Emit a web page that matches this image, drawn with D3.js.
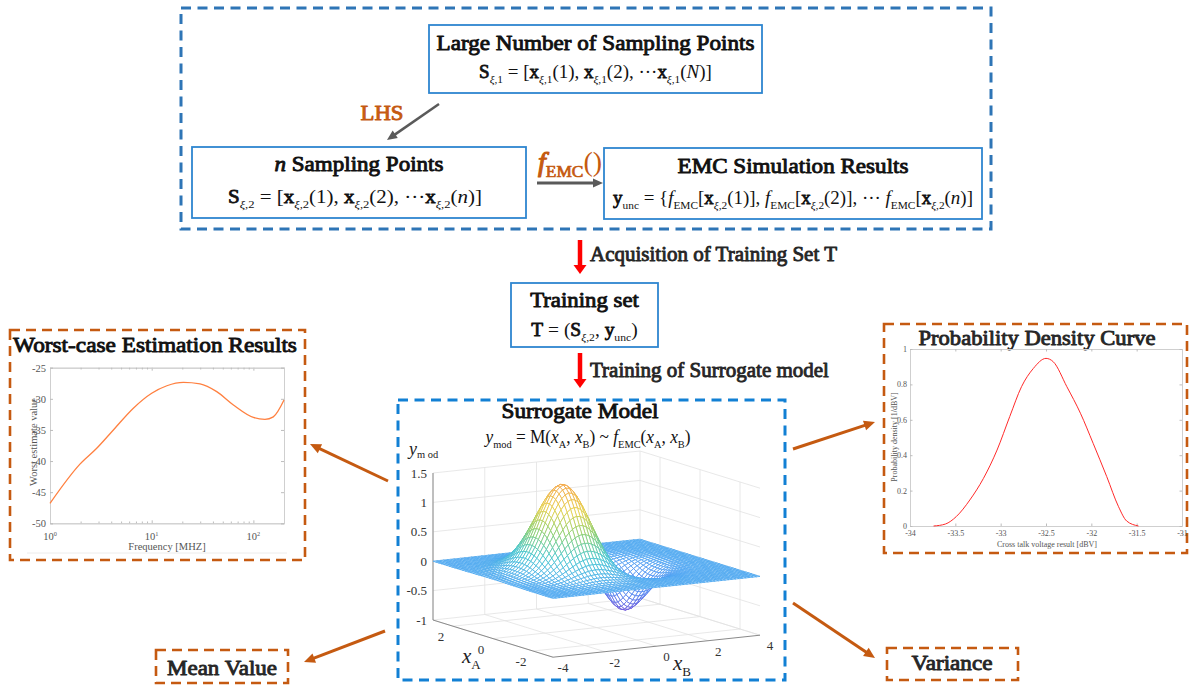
<!DOCTYPE html>
<html>
<head>
<meta charset="utf-8">
<script src="https://cdn.jsdelivr.net/npm/d3@7"></script>
<style>
  html, body { margin: 0; padding: 0; background: #fff; }
  svg { display: block; font-family: "Liberation Serif", "Times New Roman", serif; }
  text { white-space: pre; }
</style>
</head>
<body>
<svg id="fig" width="1190" height="685"></svg>
<script>
// ---- data ----
const worstFreq  = [1, 1.97, 2.88, 4.2, 6.6, 10, 14.1, 20.5, 29.9, 43.6, 63.6, 100, 130, 157, 200];
const worstValue = [-46.8, -40.5, -37.95, -35.0, -31.5, -29.1, -27.9, -27.36, -27.6, -28.85, -31.0, -33.0, -33.3, -32.9, -30.2];
const worstYTicks = [-50, -45, -40, -35, -30, -25];
const worstXTicks = [1, 10, 100];
const worstXMinor = [2, 3, 4, 5, 6, 7, 8, 9, 20, 30, 40, 50, 60, 70, 80, 90, 200];

const pdfVoltage = [-33.74, -33.61, -33.49, -33.34, -33.19, -33.04, -32.9, -32.77, -32.64, -32.5, -32.42, -32.27, -32.12, -31.98, -31.83, -31.7, -31.61, -31.48];
const pdfDensity = [0, 0.011, 0.053, 0.147, 0.269, 0.429, 0.618, 0.787, 0.89, 0.947, 0.928, 0.787, 0.637, 0.467, 0.279, 0.109, 0.028, 0];
const pdfXTicks = [-34, -33.5, -33, -32.5, -32, -31.5, -31];
const pdfYTicks = [0, 0.2, 0.4, 0.6, 0.8, 1];

const surfXATicks = [-2, 0, 2];
const surfXBTicks = [-4, -2, 0, 2, 4];
const surfZTicks = [-1, -0.5, 0, 0.5, 1, 1.5];
// surrogate surface: a hump and a trough on a flat plane
const surfBumpXA     = [0, 0];
const surfBumpXB     = [-1.3, 1.0];
const surfBumpHeight = [1.5, -0.78];
const surfBumpSpread = [1.2, 1.0];
const surfColors = ["#6b4fd8", "#4d7ff0", "#4ea6f2", "#3fc4cf", "#86cd6a", "#e5cf45", "#f2a640"];
const surfColorRange = [-0.75, 1.45];

// ---- styles ----
const ORANGE = "#c55a11", BLUE = "#2e75b6", BLUE2 = "#1280d4", BOXBLUE = "#2e86d0";
const GRAY_ARROW = "#5a5a5a", RED = "#ff0000";

const svg = d3.select("#fig");
svg.append("rect").attr("width", 1190).attr("height", 685).attr("fill", "#fff");

// bold serif faces are missing, so bold is drawn as regular serif with a thin outline
function embolden(sel, fill, size) {
  sel.attr("font-weight", "normal").attr("stroke", fill).attr("stroke-width", Math.max(0.5, size * 0.042))
      .attr("stroke-linejoin", "round");
}

// rich text: segments [text, flags] ; b bold, i italic, s subscript, p superscript
function rich(parent, x, y, segs, size, opts = {}) {
  const fill = opts.fill || "#111";
  const t = parent.append("text")
      .attr("x", x).attr("y", y)
      .attr("text-anchor", opts.anchor || "middle")
      .attr("fill", fill)
      .attr("font-size", size);
  let off = 0;
  segs.forEach(([txt, f = ""]) => {
    const sub = f.includes("s"), sup = f.includes("p");
    const target = sub ? size * (opts.subShift || 0.28) : sup ? -size * 0.42 : 0;
    const fs = sub || sup ? size * (opts.subScale || 0.6) : size;
    const ts = t.append("tspan")
        .attr("dy", target - off)
        .attr("font-size", fs)
        .attr("font-weight", "normal")
        .attr("font-style", f.includes("i") ? "italic" : "normal")
        .text(txt);
    if (f.includes("b")) embolden(ts, fill, fs);
    off = target;
  });
  return t;
}

function fit(sel, width, cx) {
  const w = sel.node().getBBox().width;
  const k = width / w;
  sel.attr("transform", `translate(${cx},0) scale(${k},1) translate(${-cx},0)`);
}

function arrow(g, x1, y1, x2, y2, color, w, hl, hw) {
  const dx = x2 - x1, dy = y2 - y1, L = Math.hypot(dx, dy), ux = dx / L, uy = dy / L;
  const bx = x2 - ux * hl, by = y2 - uy * hl;
  g.append("line")
      .attr("x1", x1).attr("y1", y1).attr("x2", bx + ux).attr("y2", by + uy)
      .attr("stroke", color).attr("stroke-width", w);
  g.append("path")
      .attr("d", `M${x2},${y2}L${bx - uy * hw / 2},${by + ux * hw / 2}L${bx + uy * hw / 2},${by - ux * hw / 2}Z`)
      .attr("fill", color);
}

function box(g, x0, y0, x1, y1, color, w, dash) {
  g.append("rect")
      .attr("x", x0).attr("y", y0).attr("width", x1 - x0).attr("height", y1 - y0)
      .attr("fill", "none").attr("stroke", color).attr("stroke-width", w)
      .attr("stroke-dasharray", dash || null);
}

function title(g, x, y, txt, size, width, fill, anchor) {
  const t = g.append("text").attr("x", x).attr("y", y)
      .attr("text-anchor", anchor || "middle")
      .attr("font-size", size).attr("fill", fill || "#111").text(txt);
  embolden(t, fill || "#111", size);
  if (width) fit(t, width, x);
  return t;
}

const upper = svg.append("g");

// ---- top block ----
box(upper, 181, 8, 991, 229, BLUE, 3, "10,6.5");
box(upper, 429, 25, 762, 93, BOXBLUE, 1.8);
title(upper, 595.5, 50, "Large Number of Sampling Points", 22, 318);
fit(rich(upper, 595.5, 78, [["S", "b"], ["ξ", "is"], [",1", "s"], [" = [", ""], ["x", "b"], ["ξ", "is"], [",1", "s"], ["(1), ", ""],
  ["x", "b"], ["ξ", "is"], [",1", "s"], ["(2), ···", ""], ["x", "b"], ["ξ", "is"], [",1", "s"], ["(", ""], ["N", "i"], [")]", ""]], 19), 233, 595.5);

title(upper, 382, 120, "LHS", 22, 43, ORANGE);
arrow(upper, 439, 104, 387, 140, GRAY_ARROW, 2.5, 10, 9);

box(upper, 192, 147, 526, 218, BOXBLUE, 1.8);
fit(rich(upper, 359, 171, [["n", "bi"], [" Sampling Points", "b"]], 22), 169, 359);
fit(rich(upper, 355, 203, [["S", "b"], ["ξ", "is"], [",2", "s"], [" = [", ""], ["x", "b"], ["ξ", "is"], [",2", "s"], ["(1), ", ""],
  ["x", "b"], ["ξ", "is"], [",2", "s"], ["(2), ···", ""], ["x", "b"], ["ξ", "is"], [",2", "s"], ["(", ""], ["n", "i"], [")]", ""]], 19), 254, 355);

box(upper, 604, 148, 982, 219, BOXBLUE, 1.8);
title(upper, 793, 173, "EMC Simulation Results", 22, 231);
fit(rich(upper, 793, 204, [["y", "b"], ["unc", "s"], [" = {", ""], ["f", "i"], ["EMC", "s"], ["[", ""], ["x", "b"], ["ξ", "is"], [",2", "s"], ["(1)], ", ""],
  ["f", "i"], ["EMC", "s"], ["[", ""], ["x", "b"], ["ξ", "is"], [",2", "s"], ["(2)], ··· ", ""],
  ["f", "i"], ["EMC", "s"], ["[", ""], ["x", "b"], ["ξ", "is"], [",2", "s"], ["(", ""], ["n", "i"], [")]", ""]], 19), 360, 793);

rich(upper, 538, 171, [["f", "bi"], ["EMC", "bs"], ["()", ""]], 28, { anchor: "start", fill: ORANGE, subScale: 0.62, subShift: 0.2 });
arrow(upper, 537, 183, 603, 183, GRAY_ARROW, 3, 10, 9);

// ---- middle flow ----
const mid = svg.append("g");
arrow(mid, 580, 240, 580, 274, RED, 4.5, 9, 13);
title(mid, 590, 261, "Acquisition of Training Set T", 21, null, "#262626", "start");
box(mid, 511, 283, 658, 347, BOXBLUE, 1.8);
title(mid, 584.5, 307, "Training set", 21, 109);
fit(rich(mid, 584.5, 336, [["T", "b"], [" = (", ""], ["S", "b"], ["ξ", "is"], [",2", "s"], [", ", ""], ["y", "b"], ["unc", "s"], [")", ""]], 19), 106, 584.5);
arrow(mid, 580, 353, 580, 388, RED, 4.5, 9, 13);
title(mid, 590, 377, "Training of Surrogate model", 21, null, "#262626", "start");

// ---- orange arrows and side boxes ----
const side = svg.append("g");
arrow(side, 388, 481, 310, 444, ORANGE, 3, 11, 10);
arrow(side, 385, 631, 304, 662, ORANGE, 3, 11, 10);
arrow(side, 793, 449, 875, 422, ORANGE, 3, 11, 10);
arrow(side, 793, 603, 875, 658, ORANGE, 3, 11, 10);

box(side, 156, 650, 288, 683, ORANGE, 2.6, "10,6");
title(side, 222, 675, "Mean Value", 21, 110, "#262626");
box(side, 887, 648, 1018, 680, ORANGE, 2.6, "10,6");
title(side, 952, 670, "Variance", 21, 81, "#262626");

// ---- worst-case chart ----
const wc = svg.append("g");
box(wc, 10, 330, 305, 560, ORANGE, 2.6, "10,6");
title(wc, 155, 352, "Worst-case Estimation Results", 22, 284);
const wx = d3.scaleLog().domain([1, 200]).range([50, 284]);
const wy = d3.scaleLinear().domain([-50, -25]).range([523.3, 367.7]);

function styleAxis(g) {
  g.attr("font-family", null);
  g.selectAll("path.domain").attr("stroke", "#cfcfcf");
  g.selectAll(".tick line").attr("stroke", "#bdbdbd");
  g.selectAll("text").attr("fill", "#555");
}
wc.append("g").attr("transform", "translate(0,523.3)")
    .call(d3.axisBottom(wx).tickValues(worstXTicks).tickSize(-3).tickFormat("")).call(styleAxis);
wc.append("g").attr("transform", "translate(0,523.3)")
    .call(d3.axisBottom(wx).tickValues(worstXMinor).tickSize(-1.8).tickFormat("")).call(styleAxis);
wc.append("g").attr("transform", "translate(0,367.7)")
    .call(d3.axisTop(wx).tickValues(worstXTicks).tickSize(-3).tickFormat("")).call(styleAxis);
wc.append("g").attr("transform", "translate(0,367.7)")
    .call(d3.axisTop(wx).tickValues(worstXMinor).tickSize(-1.8).tickFormat("")).call(styleAxis);
wc.append("g").attr("transform", "translate(50,0)")
    .call(d3.axisLeft(wy).tickValues(worstYTicks).tickSize(-3).tickPadding(4).tickFormat(d => String(d)))
    .call(styleAxis).selectAll("text").attr("font-size", 10.5);
wc.append("g").attr("transform", "translate(284,0)")
    .call(d3.axisRight(wy).tickValues(worstYTicks).tickSize(-3).tickFormat("")).call(styleAxis);
worstXTicks.forEach(v => {
  rich(wc, wx(v), 540, [["10", ""], [String(Math.round(Math.log10(v))), "p"]], 10.5, { fill: "#555" });
});
wc.append("path").datum(worstFreq.map((f, i) => [f, worstValue[i]]))
    .attr("fill", "none").attr("stroke", "#ff8040").attr("stroke-width", 1.3)
    .attr("d", d3.line().x(d => wx(d[0])).y(d => wy(d[1])).curve(d3.curveMonotoneX));
wc.append("text").attr("x", 167).attr("y", 550).attr("text-anchor", "middle")
    .attr("font-size", 10.5).attr("fill", "#555").text("Frequency [MHZ]");
wc.append("text").attr("transform", "translate(37,442) rotate(-90)").attr("text-anchor", "middle")
    .attr("font-size", 10.5).attr("fill", "#555").text("Worst estimate value");
wc.append("line").attr("x1", 27).attr("x2", 287).attr("y1", 553).attr("y2", 553)
    .attr("stroke", "#ececec").attr("stroke-width", 1);

// ---- probability density chart ----
const pc = svg.append("g");
box(pc, 884, 324, 1187, 553, ORANGE, 2.6, "10,6");
title(pc, 1037, 345, "Probability Density Curve", 21, 237, "#262626");
const px = d3.scaleLinear().domain([-34, -31]).range([910, 1182]);
const py = d3.scaleLinear().domain([0, 1]).range([526, 349]);
pc.append("g").attr("transform", "translate(0,526)")
    .call(d3.axisBottom(px).tickValues(pdfXTicks).tickSize(-2.5).tickPadding(4).tickFormat(d => String(d)))
    .call(styleAxis).selectAll("text").attr("font-size", 8);
pc.append("g").attr("transform", "translate(0,349)")
    .call(d3.axisTop(px).tickValues(pdfXTicks).tickSize(-2.5).tickFormat("")).call(styleAxis);
pc.append("g").attr("transform", "translate(910,0)")
    .call(d3.axisLeft(py).tickValues(pdfYTicks).tickSize(-2.5).tickPadding(3).tickFormat(d => String(d)))
    .call(styleAxis).selectAll("text").attr("font-size", 8);
pc.append("g").attr("transform", "translate(1182,0)")
    .call(d3.axisRight(py).tickValues(pdfYTicks).tickSize(-2.5).tickFormat("")).call(styleAxis);
pc.append("path").datum(pdfVoltage.map((v, i) => [v, pdfDensity[i]]))
    .attr("fill", "none").attr("stroke", "#ff2a2a").attr("stroke-width", 1)
    .attr("d", d3.line().x(d => px(d[0])).y(d => py(d[1])).curve(d3.curveMonotoneX));
pc.append("text").attr("x", 1047).attr("y", 547).attr("text-anchor", "middle")
    .attr("font-size", 8).attr("fill", "#555").text("Cross talk voltage result [dBV]");
pc.append("text").attr("transform", "translate(897,437) rotate(-90)").attr("text-anchor", "middle")
    .attr("font-size", 8).attr("fill", "#555").text("Probability density [1/dBV]");

// ---- surrogate model 3D mesh ----
const sm = svg.append("g");
box(sm, 398, 400, 785, 680, BLUE2, 3, "10,6.5");
title(sm, 580, 418, "Surrogate Model", 22, 157);
fit(rich(sm, 588, 443, [["y", "i"], ["mod", "s"], [" = M(", ""], ["x", "i"], ["A", "s"], [", ", ""], ["x", "i"], ["B", "s"], [") ~ ", ""],
  ["f", "i"], ["EMC", "s"], ["(", ""], ["x", "i"], ["A", "s"], [", ", ""], ["x", "i"], ["B", "s"], [")", ""]], 19), 207, 588);

const aS = d3.scaleLinear().domain([3, -3]).range([0, 1]);
const bS = d3.scaleLinear().domain([-4, 4]).range([0, 1]);
const zS = d3.scaleLinear().domain([-1, 1.5]).range([620, 473]);
const proj = (a, b, z) => [433 + aS(a) * 120 + bS(b) * 207, zS(z) + aS(a) * 37.2 - bS(b) * 22];
const seg = (p, q) => "M" + p.join(",") + "L" + q.join(",");

const grid = sm.append("g").attr("stroke", "#e2e2e2").attr("stroke-width", 0.8).attr("fill", "none");
surfXBTicks.forEach(b => {
  grid.append("path").attr("d", seg(proj(3, b, -1), proj(-3, b, -1)));
  grid.append("path").attr("d", seg(proj(3, b, -1), proj(3, b, 1.5)));
});
surfXATicks.forEach(a => {
  grid.append("path").attr("d", seg(proj(a, -4, -1), proj(a, 4, -1)));
  grid.append("path").attr("d", seg(proj(a, 4, -1), proj(a, 4, 1.5)));
});
surfZTicks.forEach(z => {
  grid.append("path").attr("d", seg(proj(3, -4, z), proj(3, 4, z)));
  grid.append("path").attr("d", seg(proj(3, 4, z), proj(-3, 4, z)));
});

const axc = sm.append("g").attr("stroke", "#8a8a8a").attr("stroke-width", 1).attr("fill", "none");
axc.append("path").attr("d", seg(proj(3, -4, -1), proj(3, -4, 1.5)));
axc.append("path").attr("d", seg(proj(3, -4, -1), proj(-3, -4, -1)));
axc.append("path").attr("d", seg(proj(-3, -4, -1), proj(-3, 4, -1)));

const surfZ = (a, b) => d3.sum(surfBumpHeight, (h, k) =>
  h * Math.exp(-((a - surfBumpXA[k]) ** 2 + (b - surfBumpXB[k]) ** 2) / surfBumpSpread[k] ** 2));
const nA = 45, nB = 60;
const aVals = d3.range(nA + 1).map(i => 3 - 6 * i / nA);
const bVals = d3.range(nB + 1).map(j => -4 + 8 * j / nB);
const color = d3.scaleLinear()
    .domain(surfColors.map((c, i) => surfColorRange[0] + i * (surfColorRange[1] - surfColorRange[0]) / (surfColors.length - 1)))
    .range(surfColors).clamp(true);
const cells = [];
for (let i = 0; i < nA; i++) {
  for (let j = 0; j < nB; j++) {
    const corners = [[aVals[i], bVals[j]], [aVals[i + 1], bVals[j]], [aVals[i + 1], bVals[j + 1]], [aVals[i], bVals[j + 1]]]
        .map(([a, b]) => [a, b, surfZ(a, b)]);
    const ca = (aVals[i] + aVals[i + 1]) / 2, cb = (bVals[j] + bVals[j + 1]) / 2;
    cells.push({ corners, far: 6.2 * ca + 2.75 * cb, z: d3.mean(corners, c => c[2]) });
  }
}
cells.sort((p, q) => q.far - p.far);
sm.append("g").selectAll("path").data(cells).join("path")
    .attr("d", d => "M" + d.corners.map(c => proj(c[0], c[1], c[2]).join(",")).join("L") + "Z")
    .attr("fill", "#fff").attr("stroke", d => color(d.z)).attr("stroke-width", 0.8)
    .attr("stroke-linejoin", "round");

const lab = sm.append("g").attr("fill", "#333").attr("font-size", 13);
surfZTicks.forEach(z => {
  lab.append("text").attr("x", 427).attr("y", zS(z) + 4.5).attr("text-anchor", "end").text(String(z));
});
surfXATicks.forEach(a => {
  const p = proj(a, -4, -1);
  lab.append("text").attr("x", p[0] - 12).attr("y", p[1] + 15).attr("text-anchor", "middle").text(String(a));
});
surfXBTicks.forEach(b => {
  const p = proj(-3, b, -1);
  lab.append("text").attr("x", p[0] + 10).attr("y", p[1] + 15).attr("text-anchor", "middle").text(String(b));
});
rich(sm, 462, 663, [["x", "i"], ["A", "s"]], 21, { anchor: "start", fill: "#222", subScale: 0.62, subShift: 0.3 });
rich(sm, 673, 670, [["x", "i"], ["B", "s"]], 21, { anchor: "start", fill: "#222", subScale: 0.62, subShift: 0.3 });
rich(sm, 409, 455, [["y", "i"], ["m od", "s"]], 18, { anchor: "start", fill: "#222", subScale: 0.58, subShift: 0.15 });
</script>
</body>
</html>
